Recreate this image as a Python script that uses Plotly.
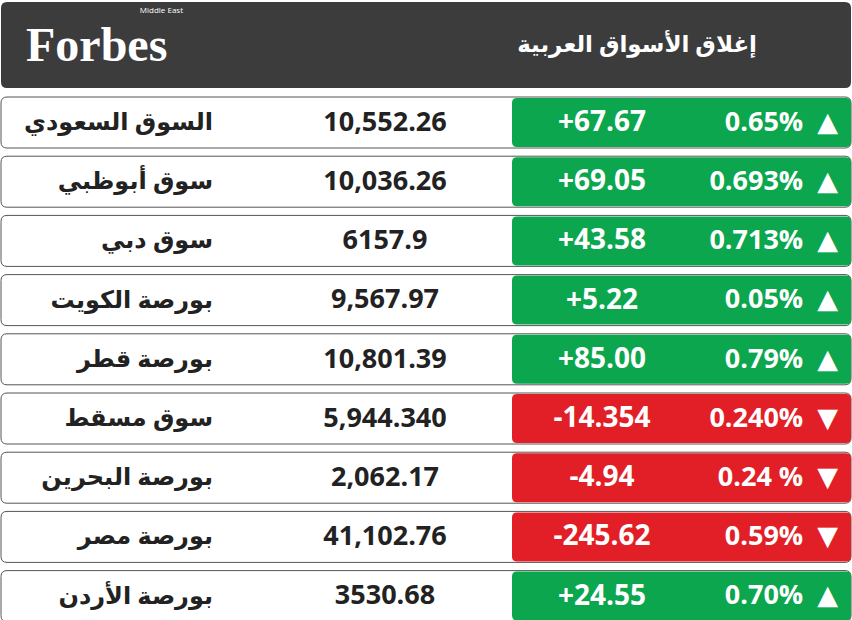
import plotly.graph_objects as go

names = ["السوق السعودي","سوق أبوظبي","سوق دبي","بورصة الكويت","بورصة قطر","سوق مسقط","بورصة البحرين","بورصة مصر","بورصة الأردن"]
values = ["10,552.26","10,036.26","6157.9","9,567.97","10,801.39","5,944.340","2,062.17","41,102.76","3530.68"]
changes = ["+67.67","+69.05","+43.58","+5.22","+85.00","-14.354","-4.94","-245.62","+24.55"]
percents = ["0.65%","0.693%","0.713%","0.05%","0.79%","0.240%","0.24 %","0.59%","0.70%"]
title = "إغلاق الأسواق العربية"

GREEN = "#0ba64e"; RED = "#e21f26"
W, H = 852, 620
top0, step, rh = 97, 59.2, 51

def rrect(x0, y0, x1, y1, r):
    return (f"M{x0+r},{y0} L{x1-r},{y0} Q{x1},{y0} {x1},{y0+r} L{x1},{y1-r} Q{x1},{y1} {x1-r},{y1} "
            f"L{x0+r},{y1} Q{x0},{y1} {x0},{y1-r} L{x0},{y0+r} Q{x0},{y0} {x0+r},{y0} Z")

shapes = [dict(type="path", path=rrect(1, 2, 851, 88, 6), fillcolor="#3c3c3c", line=dict(width=0), xref="x", yref="y", layer="below")]
ys = []
for i, c in enumerate(changes):
    t = top0 + i * step
    ys.append(t + rh / 2 + 1.5)
    shapes.append(dict(type="path", path=rrect(1, t, 851, t + rh, 6), fillcolor="white",
                       line=dict(color="#555", width=1), xref="x", yref="y", layer="below"))
    col = RED if c.startswith("-") else GREEN
    shapes.append(dict(type="path", path=rrect(512, t + 1, 851, t + rh - 1, 5), fillcolor=col,
                       line=dict(width=0), xref="x", yref="y", layer="below"))

font = "Open Sans, DejaVu Sans, sans-serif"
fig = go.Figure()
fig.add_trace(go.Scatter(x=[213]*9, y=ys, mode="text", text=names, textposition="middle left",
                         textfont=dict(family=font, size=24, color="#222", weight="bold"), hoverinfo="skip"))
fig.add_trace(go.Scatter(x=[385]*9, y=ys, mode="text", text=values, textposition="middle center",
                         textfont=dict(family=font, size=27, color="#222", weight="bold"), hoverinfo="skip"))
fig.add_trace(go.Scatter(x=[602]*9, y=ys, mode="text", text=changes, textposition="middle center",
                         textfont=dict(family=font, size=28, color="white", weight="bold"), hoverinfo="skip"))
ptxt = [p + "  " + ("▼" if c.startswith("-") else "▲") for p, c in zip(percents, changes)]
fig.add_trace(go.Scatter(x=[838]*9, y=ys, mode="text", text=ptxt, textposition="middle left",
                         textfont=dict(family=font, size=27, color="white", weight="bold"), hoverinfo="skip"))
fig.add_trace(go.Scatter(x=[757], y=[46], mode="text", text=[title], textposition="middle left",
                         textfont=dict(family=font, size=23, color="white", weight="bold"), hoverinfo="skip"))
fig.add_trace(go.Scatter(x=[26], y=[49], mode="text", text=["Forbes"], textposition="middle right",
                         textfont=dict(family="Liberation Serif, serif", size=48, color="white", weight="bold"), hoverinfo="skip"))
fig.add_trace(go.Scatter(x=[183], y=[11], mode="text", text=["Middle East"], textposition="middle left",
                         textfont=dict(family="Open Sans, sans-serif", size=8, color="white"), hoverinfo="skip"))

fig.update_layout(width=W, height=H, margin=dict(l=0, r=0, t=0, b=0), showlegend=False,
                  plot_bgcolor="white", paper_bgcolor="white", shapes=shapes,
                  xaxis=dict(range=[0, W], visible=False, fixedrange=True),
                  yaxis=dict(range=[H, 0], visible=False, fixedrange=True))
fig.write_html("out.html", config=dict(displayModeBar=False),
               post_script="document.body.style.margin='0';document.body.style.overflow='hidden';")
